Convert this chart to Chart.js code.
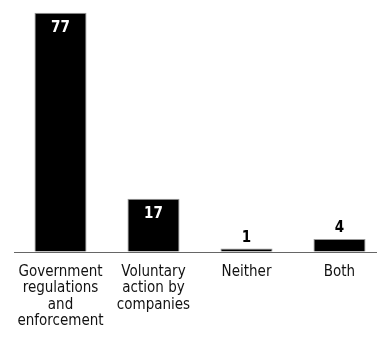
<!DOCTYPE html>
<html>
<head>
<meta charset="utf-8">
<script src="https://cdn.jsdelivr.net/npm/chart.js@4"></script>
<style>
  html, body { margin: 0; padding: 0; background: #fff; overflow: hidden; }
  #wrap { width: 377px; height: 345px; position: relative; }
</style>
</head>
<body>
<div id="wrap"><canvas id="chart" width="377" height="345"></canvas></div>
<script>
// answers, in percent
const categories = [
  ["Government", "regulations", "and", "enforcement"],
  ["Voluntary", "action by", "companies"],
  ["Neither"],
  ["Both"]
];
const values = [77, 17, 1, 4];

const FONT = "'DejaVu Sans Condensed', 'Liberation Sans Narrow', sans-serif";

// value labels: white inside tall bars, black above short ones
const valueLabels = {
  id: "valueLabels",
  afterDatasetsDraw(chart) {
    const ctx = chart.ctx;
    const meta = chart.getDatasetMeta(0);
    ctx.save();
    ctx.font = "bold 15px " + FONT;
    ctx.textAlign = "center";
    ctx.textBaseline = "middle";
    meta.data.forEach((bar, i) => {
      const v = values[i];
      if (v >= 10) {
        ctx.fillStyle = "#fff";
        ctx.fillText(String(v), bar.x, bar.y + 15);
      } else {
        ctx.fillStyle = "#000";
        ctx.fillText(String(v), bar.x, bar.y - 10.5);
      }
    });
    ctx.restore();
  }
};

// long base line under the bars
const baseLine = {
  id: "baseLine",
  beforeDatasetsDraw(chart) {
    const ctx = chart.ctx;
    const y = Math.round(chart.scales.y.getPixelForValue(0)) + 0.5;
    ctx.save();
    ctx.strokeStyle = "#666";
    ctx.lineWidth = 1;
    ctx.beginPath();
    ctx.moveTo(14, y);
    ctx.lineTo(chart.width, y);
    ctx.stroke();
    ctx.restore();
  }
};

new Chart(document.getElementById("chart"), {
  type: "bar",
  data: {
    labels: categories,
    datasets: [{
      data: values,
      backgroundColor: "#000",
      borderColor: "#999",
      borderWidth: 1,
      categoryPercentage: 1,
      barPercentage: 0.56,
      clip: false
    }]
  },
  options: {
    responsive: false,
    animation: false,
    layout: { padding: { left: 60.5, right: 37.5, top: 12.7, bottom: 0 } },
    plugins: { legend: { display: false }, tooltip: { enabled: false } },
    scales: {
      x: {
        offset: false,
        grid: { display: false, drawTicks: false },
        border: { display: false },
        ticks: {
          color: "#111",
          padding: 12,
          maxRotation: 0,
          autoSkip: false,
          font: { family: FONT, size: 15, lineHeight: 1.1 }
        },
        afterFit(scale) { scale.height = 93.5; }
      },
      y: {
        display: false,
        min: 0,
        max: 77
      }
    }
  },
  plugins: [baseLine, valueLabels]
});
</script>
</body>
</html>
